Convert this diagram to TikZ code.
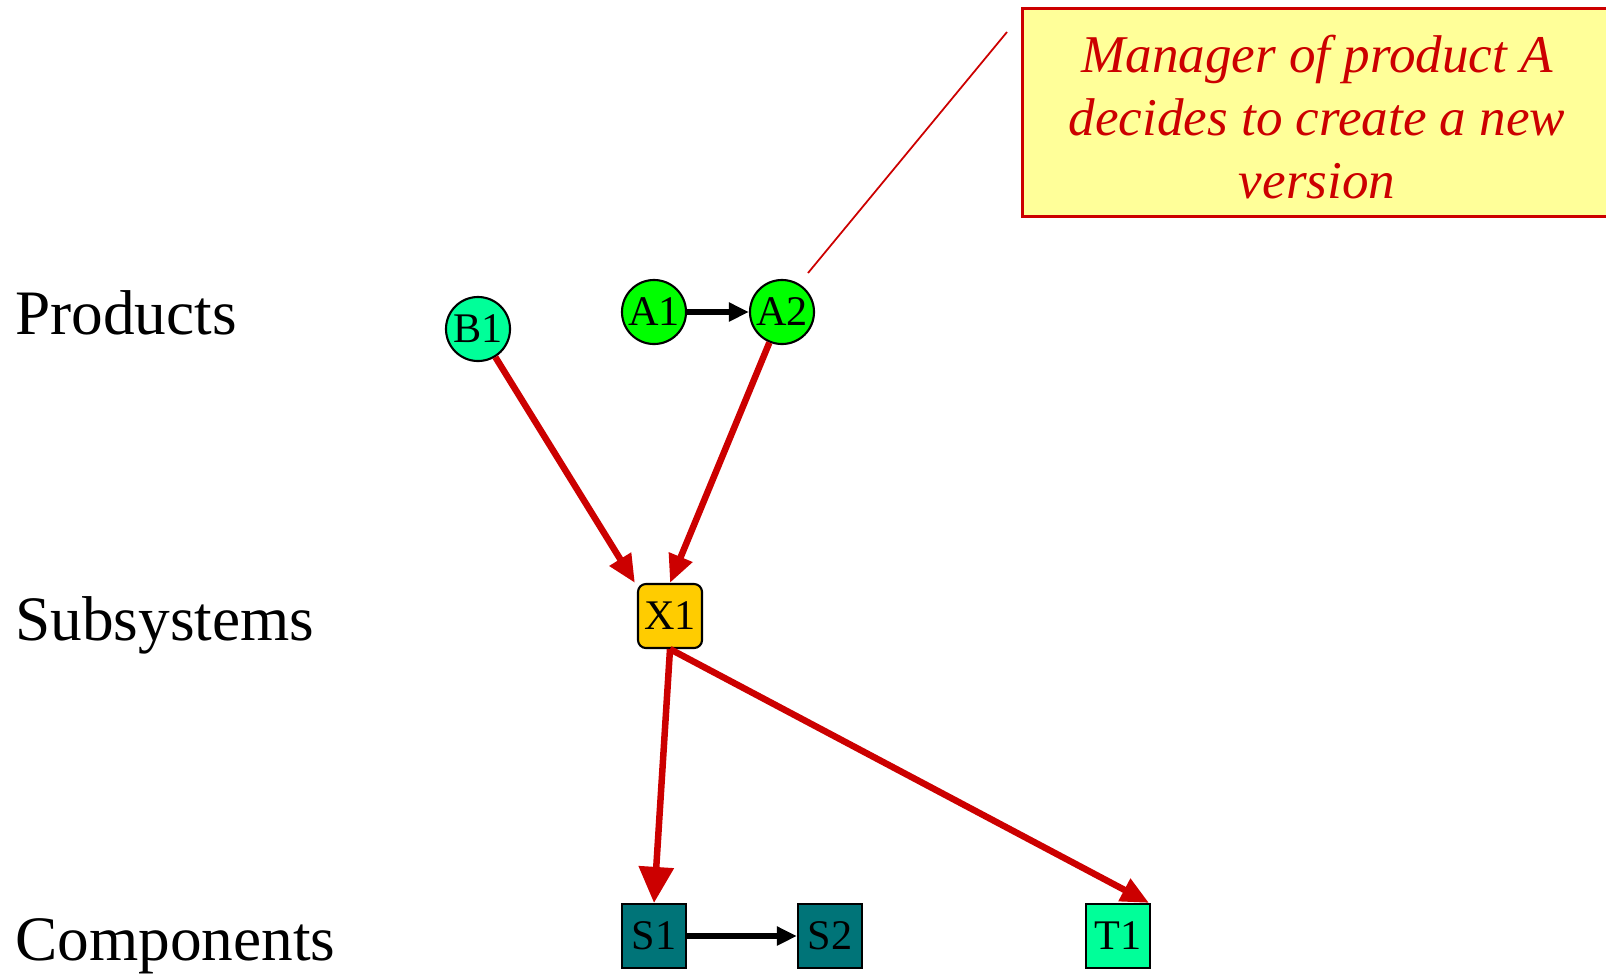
\documentclass[tikz,border=0pt]{standalone}
\usepackage{fontspec}
\setmainfont{Liberation Serif}
\usetikzlibrary{arrows.meta}

\definecolor{pfeilrot}{RGB}{204,0,0}
\definecolor{hellgruen}{RGB}{0,255,153}
\definecolor{gruen}{RGB}{0,255,0}
\definecolor{gelb}{RGB}{255,204,0}
\definecolor{petrol}{RGB}{0,116,120}
\definecolor{notizgelb}{RGB}{255,255,153}

\newcommand{\ebene}{\fontsize{18}{20}\selectfont}
\newcommand{\knoten}{\fontsize{12}{14}\selectfont}

\begin{document}
\begin{tikzpicture}[>=latex,thick,x=0.01cm,y=-0.01cm,
	kreis/.style={circle, draw, line width=0.6pt, minimum size=0.64cm, inner sep=0pt, font=\knoten},
	kasten/.style={rectangle, draw, line width=0.6pt, minimum width=0.64cm, minimum height=0.64cm, inner sep=0pt, font=\knoten},
	ebenentext/.style={anchor=base west, inner sep=0pt, font=\ebene},
	rotpfeil/.style={-{Triangle[length=0.28cm,width=0.24cm]}, draw=pfeilrot, line width=0.065cm},
	schwarzpfeil/.style={-{Triangle[length=0.2cm,width=0.18cm]}, line width=0.055cm}]
	\useasboundingbox (0,0) rectangle (1606,975);

	% Ebenen
	\node[ebenentext] (produkte) at (14,334) {Products};
	\node[ebenentext] (subsysteme) at (14,640) {Subsystems};
	\node[ebenentext] (komponenten) at (14,960) {Components};

	% Produkte
	\node[kreis, fill=hellgruen] (B1) at (478,329) {B1};
	\node[kreis, fill=gruen] (A1) at (654,312) {A1};
	\node[kreis, fill=gruen] (A2) at (782,312) {A2};

	% Subsystem
	\node[kasten, fill=gelb, rounded corners=0.08cm] (X1) at (670,616) {X1};

	% Komponenten
	\node[kasten, fill=petrol] (S1) at (654,936) {S1};
	\node[kasten, fill=petrol] (S2) at (830,936) {S2};
	\node[kasten, fill=hellgruen] (T1) at (1118,936) {T1};

	\draw[schwarzpfeil] (A1) -- (A2);
	\draw[schwarzpfeil] (S1) -- (S2);

	\draw[rotpfeil] (B1) -- ([xshift=-0.02cm]X1.north west);
	\draw[rotpfeil] (A2) -- (X1.north);
	\draw[rotpfeil, -{Triangle[length=0.36cm,width=0.34cm]}] (X1.south) -- (S1.north);
	\draw[rotpfeil] (X1.south) -- ([xshift=-0.02cm]T1.north east);

	% Notiz
	\draw[draw=pfeilrot, line width=0.03cm, fill=notizgelb] (1022,8) rectangle (1616,216);
	\node[align=center, text=pfeilrot, font=\fontsize{15.1}{17.9}\selectfont\itshape] (notiz) at (1317,117)
		{Manager of product A\\decides to create a new\\version};
	\coordinate (notizanfang) at (1007,32);
	\coordinate (notizende) at (808,273);
	\draw[pfeilrot, line width=0.5pt] (notizanfang) -- (notizende);
\end{tikzpicture}
\end{document}
